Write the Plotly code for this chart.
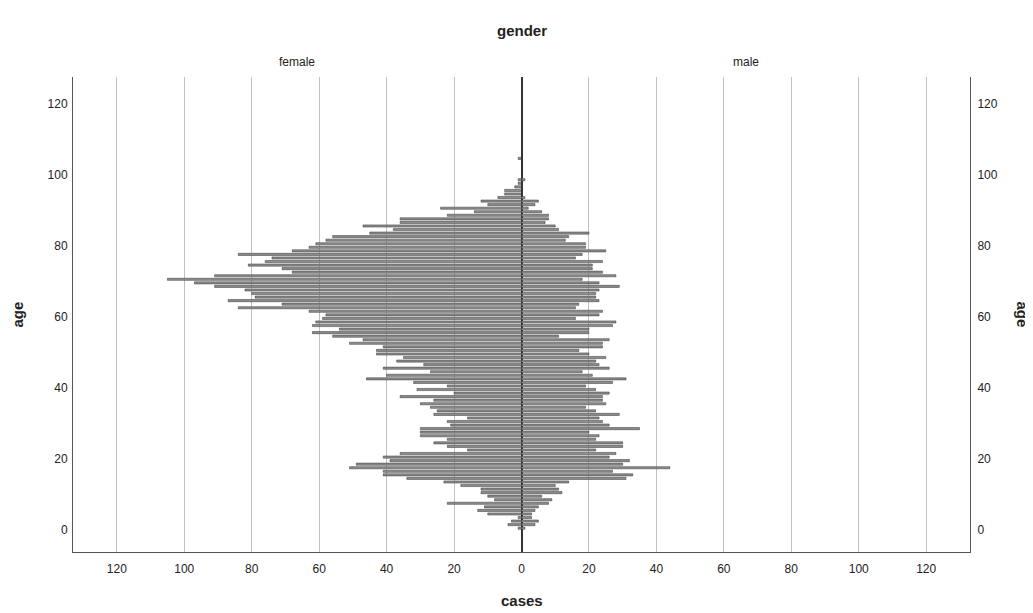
import plotly.graph_objects as go

# ---- data ----
ages = list(range(0, 105))
female = [1, 4, 3, 1, 10, 13, 11, 22, 8, 10,
          12, 12, 18, 23, 34, 41, 41, 51, 49, 39,
          41, 36, 16, 22, 26, 22, 30, 30, 30, 21,
          22, 16, 26, 25, 27, 30, 26, 36, 20, 31,
          22, 32, 46, 40, 27, 41, 29, 37, 35, 43,
          43, 41, 51, 47, 56, 62, 54, 62, 61, 59,
          58, 63, 84, 71, 87, 79, 80, 82, 91, 97,
          105, 91, 68, 71, 81, 76, 74, 84, 68, 63,
          61, 58, 56, 45, 38, 47, 36, 36, 22, 14,
          24, 10, 12, 7, 5, 5, 2, 1, 1, 0,
          0, 0, 0, 0, 1]
male = [1, 4, 5, 3, 3, 4, 5, 8, 9, 6,
        12, 11, 10, 14, 31, 33, 27, 44, 30, 32,
        26, 28, 22, 30, 30, 22, 23, 20, 35, 26,
        24, 23, 29, 22, 19, 25, 24, 24, 26, 22,
        19, 27, 31, 21, 18, 26, 23, 22, 25, 20,
        17, 24, 24, 26, 11, 20, 20, 27, 28, 16,
        23, 24, 16, 17, 23, 22, 22, 23, 29, 23,
        18, 28, 24, 21, 21, 24, 16, 18, 25, 19,
        19, 13, 14, 20, 11, 10, 7, 8, 8, 6,
        2, 4, 5, 1, 0, 0, 0, 0, 1, 0,
        0, 0, 0, 0, 0]
x_ticks = [-120, -100, -80, -60, -40, -20, 0, 20, 40, 60, 80, 100, 120]
y_ticks = [0, 20, 40, 60, 80, 100, 120]

FONT = "Liberation Sans, Arial, sans-serif"
bar_y = [a + 0.5 for a in ages]

fig = go.Figure()
bar_style = dict(color="#8e8e8e", line=dict(color="#333333", width=0.5))
fig.add_trace(go.Bar(y=bar_y, x=[-v for v in female], orientation="h",
                     width=0.6, marker=bar_style, name="female",
                     hoverinfo="skip"))
fig.add_trace(go.Bar(y=bar_y, x=male, orientation="h",
                     width=0.6, marker=bar_style, name="male",
                     hoverinfo="skip"))
# invisible trace to carry the right-hand age axis
fig.add_trace(go.Scatter(x=[0], y=[0], yaxis="y2", mode="markers",
                         marker=dict(opacity=0), hoverinfo="skip",
                         showlegend=False))

yrange = [-6.2, 127.4]
tickfont = dict(size=12, color="#222")
fig.update_layout(
    width=1025, height=605,
    margin=dict(l=65, r=63, t=69, b=61),
    paper_bgcolor="white", plot_bgcolor="white",
    barmode="overlay", showlegend=False,
    font=dict(family=FONT, size=12, color="#222"),
    xaxis=dict(range=[-133, 133], tickvals=x_ticks,
               ticktext=[str(abs(v)) for v in x_ticks],
               showgrid=True, gridcolor="#c0c0c0", gridwidth=1,
               zeroline=True, zerolinecolor="#333", zerolinewidth=1.5,
               showline=True, linecolor="#555", linewidth=1,
               ticks="", ticklabelstandoff=6, tickfont=tickfont),
    yaxis=dict(range=yrange, tickvals=y_ticks, showgrid=False,
               zeroline=False, showline=True, linecolor="#555",
               linewidth=1, ticks="", ticklabelstandoff=2,
               tickfont=tickfont),
    yaxis2=dict(range=yrange, tickvals=y_ticks, overlaying="y",
                side="right", showgrid=False, zeroline=False,
                showline=True, linecolor="#555", linewidth=1, ticks="",
                ticklabelstandoff=4, tickfont=tickfont),
)

ann = dict(showarrow=False, xanchor="center", yanchor="middle")
fig.add_annotation(text="<b>gender</b>", x=0.5, y=1, xref="paper",
                   yref="paper", yshift=47, font=dict(size=15), **ann)
fig.add_annotation(text="female", x=-66.5, y=1, xref="x", yref="paper",
                   yshift=15, font=dict(size=12), **ann)
fig.add_annotation(text="male", x=66.5, y=1, xref="x", yref="paper",
                   yshift=15, font=dict(size=12), **ann)
fig.add_annotation(text="<b>cases</b>", x=0.5, y=0, xref="paper",
                   yref="paper", yshift=-48, font=dict(size=15), **ann)
fig.add_annotation(text="<b>age</b>", x=0, y=0.5, xref="paper",
                   yref="paper", xshift=-56, textangle=-90,
                   font=dict(size=15), **ann)
fig.add_annotation(text="<b>age</b>", x=1, y=0.5, xref="paper",
                   yref="paper", xshift=52, textangle=90,
                   font=dict(size=15), **ann)

fig.write_html("out.html")
